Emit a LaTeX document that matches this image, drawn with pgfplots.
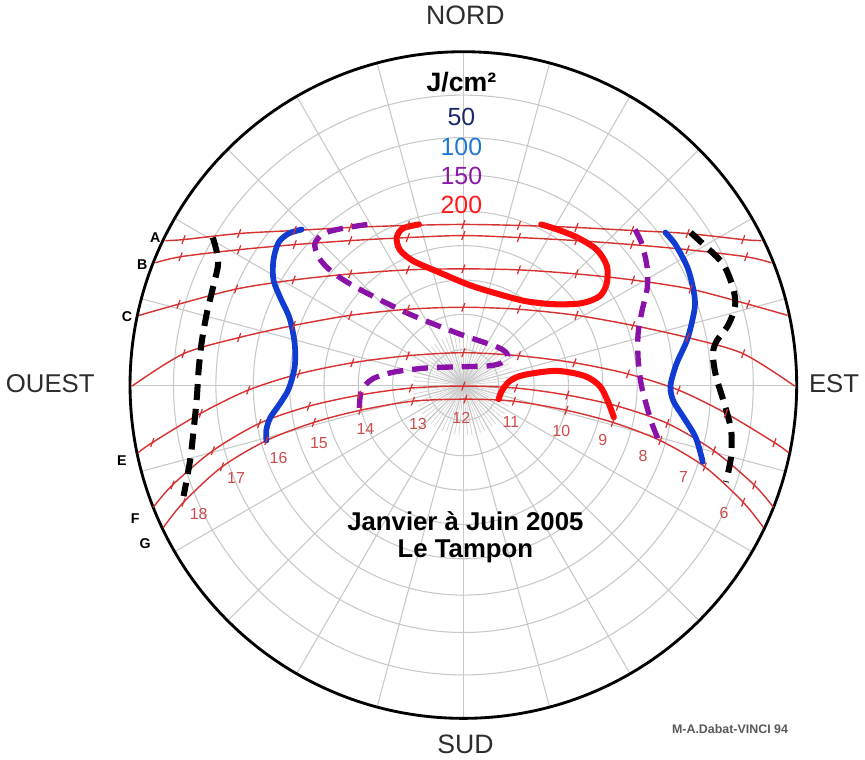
\documentclass[border=0pt]{standalone}
\usepackage{pgfplots}
\pgfplotsset{compat=1.18}
\usepackage{pgfplotstable}
\usepackage{fontspec}
\setmainfont{Liberation Sans}
\definecolor{sun}{RGB}{214,50,50}
\definecolor{hourc}{RGB}{205,75,75}
\definecolor{gridc}{RGB}{200,200,200}
\definecolor{isoblue}{RGB}{16,60,210}
\definecolor{isopurple}{RGB}{138,18,168}
\definecolor{isored}{RGB}{255,10,10}
\definecolor{labnavy}{RGB}{28,40,110}
\definecolor{labblue}{RGB}{30,120,210}
\definecolor{labpurple}{RGB}{140,25,165}
\definecolor{labred}{RGB}{255,25,25}
\definecolor{txtgray}{RGB}{45,45,45}

\pgfplotstableread{
x y m
170 243 0
188 242 1
243 236 1
298 233 1
353 230 1
410 228 1
465 227 1
520 228 1
577 230 1
632 233 1
687 236 1
742 242 1
760 243 0
}\cA
\pgfplotstableread{
x y m
160 265 0
185 259 1
243 252 1
298 247 1
353 243 1
410 240 1
465 238 1
520 240 1
577 243 1
632 247 1
687 252 1
745 259 1
770 265 0
}\cB
\pgfplotstableread{
x y m
144 317 0
183 306 1
240 291 1
297 282 1
353 276 1
410 272 1
465 271 1
520 272 1
577 276 1
633 282 1
690 291 1
747 306 1
786 317 0
}\cC
\pgfplotstableread{
x y m
137 387 0
188 355 1
243 339 1
297 327 1
353 317 1
410 311 1
465 309 1
520 311 1
577 317 1
633 327 1
687 339 1
742 355 1
793 387 0
}\cD
\pgfplotstableread{
x y m
143 453 0
157 443 1
205 414 1
252 391 1
302 375 1
355 364 1
410 357 1
465 354 1
520 357 1
575 364 1
628 375 1
678 391 1
725 414 1
773 443 1
787 453 0
}\cE
\pgfplotstableread{
x y m
158 507 0
177 485 1
217 451 1
263 424 1
312 407 1
362 396 1
413 389 1
465 387 1
517 389 1
568 396 1
618 407 1
667 424 1
713 451 1
753 485 1
772 507 0
}\cF
\pgfplotstableread{
x y m
168 527 0
188 502 1
226 467 1
270 441 1
317 423 1
363 411 1
415 402 1
467 400 1
515 402 1
567 411 1
613 423 1
660 441 1
704 467 1
742 502 1
762 527 0
}\cG

\newcommand\sunpath[1]{%
  \addplot[sun, line width=0.8pt, smooth, no marks] table[x=x,y=y] {#1};
  \addplot[sun, only marks, mark=|, mark size=2.6pt, mark options={line width=0.7pt, rotate=-20},
    restrict expr to domain={\thisrow{m}}{0.5:1.5}] table[x=x,y=y] {#1};
}

\begin{document}
\begin{tikzpicture}
\begin{axis}[
  width=173mm, height=151.6mm, scale only axis,
  xmin=0, xmax=865, ymin=0, ymax=758, y dir=reverse,
  hide axis, clip=false]
% ---- grid
\pgfplotsinvokeforeach{0,5,...,355}{\draw[gridc!80, line width=0.4pt] (axis cs:465,386) -- ++(#1:10mm);}
\pgfplotsinvokeforeach{0,15,...,345}{\draw[gridc, line width=0.6pt] (axis cs:465,386) -- ++(#1:66mm);}
\pgfplotsinvokeforeach{7mm,14mm,20.8mm,27.6mm,34.4mm,41.6mm,49mm,57.4mm}{\draw[gridc, line width=0.6pt] (axis cs:465,386) circle[radius=#1];}
\draw[black, line width=1.6pt] (axis cs:465,386) circle[radius=66mm];
% ---- sun paths
\sunpath{\cA}
\sunpath{\cB}
\sunpath{\cC}
\sunpath{\cD}
\sunpath{\cE}
\sunpath{\cF}
\sunpath{\cG}
% ---- isolines 50 (black dashed)
\addplot[black, line width=3.4pt, smooth, dash pattern=on 9pt off 5pt] coordinates {
(217,240) (221,255) (222,268) (217,290) (211,315) (206,343) (203,370) (201,400) (198,430) (195,457) (191,480) (188,496)};
\addplot[black, line width=3.4pt, smooth, dash pattern=on 9pt off 5pt] coordinates {
(690,235) (703,247) (722,266) (732,290) (734,308) (727,327) (716,342) (712,355) (715,377) (722,400) (730,430) (730,457) (725,482)};
% ---- isolines 100 (blue)
\addplot[isoblue, line width=3.2pt, smooth, line cap=round] coordinates {
(305,232) (292,236) (282,245) (277,262) (277,282) (284,300) (293,320) (298,345) (298,368) (292,390) (283,405) (274,418) (270,430) (270,441)};
\addplot[isoblue, line width=3.2pt, smooth, line cap=round] coordinates {
(665,235) (675,247) (687,270) (693,293) (694,310) (687,340) (676,365) (670,387) (673,402) (683,418) (695,438) (702,462)};
% ---- isolines 150 (purple dashed)
\addplot[isopurple, line width=3pt, smooth, dash pattern=on 9pt off 5pt] coordinates {
(370,227) (345,231) (327,236) (318,246) (322,260) (335,274) (360,290) (410,315) (460,335) (500,349) (509,357) (503,364) (490,367) (460,368) (430,369) (397,373) (375,380) (364,392) (362,410)};
\addplot[isopurple, line width=3pt, smooth, dash pattern=on 9pt off 5pt] coordinates {
(635,232) (642,247) (647,270) (647,290) (642,312) (638,335) (638,360) (641,385) (646,405) (652,425) (658,440)};
% ---- isolines 200 (red)
\addplot[isored, line width=3.4pt, smooth, line cap=round] coordinates {
(421,227) (405,231) (399,240) (402,252) (415,263) (440,274) (471,287) (500,296) (527,303) (555,306) (582,305) (600,298) (607,285) (607,268) (597,252) (578,240) (558,232) (542,227)};
\addplot[isored, line width=3.4pt, smooth, line cap=round] coordinates {
(500,400) (503,392) (511,382) (525,376) (557,372) (585,377) (600,387) (608,402) (614,418)};
% ---- hour labels
\node[hourc, font=\fontsize{9}{10}\selectfont] at (axis cs:203,514) {18};
\node[hourc, font=\fontsize{9}{10}\selectfont] at (axis cs:240,478) {17};
\node[hourc, font=\fontsize{9}{10}\selectfont] at (axis cs:282,458) {16};
\node[hourc, font=\fontsize{9}{10}\selectfont] at (axis cs:322,443) {15};
\node[hourc, font=\fontsize{9}{10}\selectfont] at (axis cs:368,430) {14};
\node[hourc, font=\fontsize{9}{10}\selectfont] at (axis cs:420,425) {13};
\node[hourc, font=\fontsize{9}{10}\selectfont] at (axis cs:463,419) {12};
\node[hourc, font=\fontsize{9}{10}\selectfont] at (axis cs:512,423) {11};
\node[hourc, font=\fontsize{9}{10}\selectfont] at (axis cs:562,432) {10};
\node[hourc, font=\fontsize{9}{10}\selectfont] at (axis cs:603,440) {9};
\node[hourc, font=\fontsize{9}{10}\selectfont] at (axis cs:643,456) {8};
\node[hourc, font=\fontsize{9}{10}\selectfont] at (axis cs:683,477) {7};
\node[hourc, font=\fontsize{9}{10}\selectfont] at (axis cs:723,513) {6};
% ---- day letters
\node[black, font=\bfseries\fontsize{8}{9}\selectfont] at (axis cs:160,240) {A};
\node[black, font=\bfseries\fontsize{8}{9}\selectfont] at (axis cs:147,267) {B};
\node[black, font=\bfseries\fontsize{8}{9}\selectfont] at (axis cs:132,318) {C};
\node[black, font=\bfseries\fontsize{8}{9}\selectfont] at (axis cs:127,461) {E};
\node[black, font=\bfseries\fontsize{8}{9}\selectfont] at (axis cs:140,518) {F};
\node[black, font=\bfseries\fontsize{8}{9}\selectfont] at (axis cs:150,543) {G};
% ---- texts
\node[txtgray, font=\fontsize{15}{17}\selectfont] at (axis cs:467,20) {NORD};
\node[txtgray, font=\fontsize{15}{17}\selectfont] at (axis cs:467,742) {SUD};
\node[txtgray, font=\fontsize{14.5}{17}\selectfont] at (axis cs:56,385) {OUEST};
\node[txtgray, font=\fontsize{14.5}{17}\selectfont] at (axis cs:832,385) {EST};
\node[black, font=\bfseries\fontsize{15}{17}\selectfont] at (axis cs:463,86) {J/cm²};
\node[labnavy, font=\fontsize{14}{16}\selectfont] at (axis cs:463,121) {50};
\node[labblue, font=\fontsize{14}{16}\selectfont] at (axis cs:463,150) {100};
\node[labpurple, font=\fontsize{14}{16}\selectfont] at (axis cs:463,179) {150};
\node[labred, font=\fontsize{14}{16}\selectfont] at (axis cs:463,208) {200};
\node[black, font=\bfseries\fontsize{14.5}{17}\selectfont] at (axis cs:467,521) {Janvier à Juin 2005};
\node[black, font=\bfseries\fontsize{14.5}{17}\selectfont] at (axis cs:467,551) {Le Tampon};
\node[black!65, font=\bfseries\fontsize{7}{8}\selectfont] at (axis cs:729,727) {M-A.Dabat-VINCI 94};
\end{axis}
\end{tikzpicture}
\end{document}
